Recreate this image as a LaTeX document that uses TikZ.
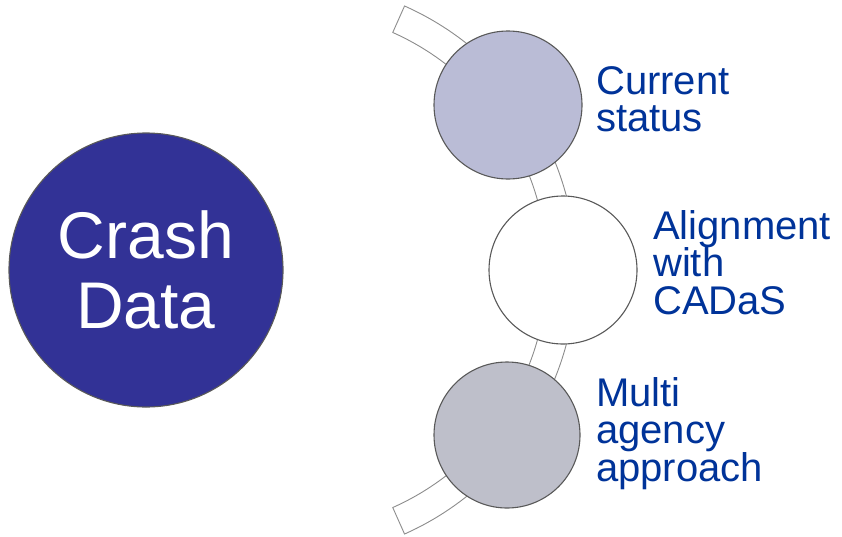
\documentclass[tikz,border=0pt]{standalone}
\usepackage{fontspec}
\setmainfont{Liberation Sans}
\usetikzlibrary{calc}
\definecolor{txtblue}{RGB}{0,51,153}
\definecolor{bigblue}{RGB}{50,50,150}
\definecolor{lav}{RGB}{186,188,214}
\definecolor{grayc}{RGB}{190,191,202}
\begin{document}
\begin{tikzpicture}[x=1pt,y=-1pt,
  bubble/.style={circle, draw=black!65, line width=1.1pt, inner sep=0pt},
  lbl/.style={anchor=base west, align=left, inner sep=0pt, text=txtblue, font=\fontsize{40}{37.5}\selectfont},
  band/.style={fill=white, draw=black!45, line width=0.9pt}]
\useasboundingbox (0,0) rectangle (842,536);
\coordinate (c) at (287,270);
\draw[band] ($(c)+(-66:289)$) arc[start angle=-66, end angle=66, radius=289]
  -- ($(c)+(66:260)$) arc[start angle=66, end angle=-66, radius=260] -- cycle;
\node[bubble, fill=bigblue, minimum size=274pt, text=white, align=center,
  font=\fontsize{66}{70}\selectfont] (crash) at (146,270) {Crash\\Data};
\node[bubble, fill=lav, minimum size=148pt] (cur) at (508,105) {};
\node[bubble, fill=white, minimum size=148pt] (ali) at (563,270) {};
\node[bubble, fill=grayc, minimum size=146pt] (mul) at (507,435) {};
\node[lbl] (curt) at (596,131.5) {Current\\status};
\node[lbl] (alit) at (653,314) {Alignment\\with\\CADaS};
\node[lbl] (mult) at (596,481) {Multi\\agency\\approach};
\end{tikzpicture}
\end{document}
